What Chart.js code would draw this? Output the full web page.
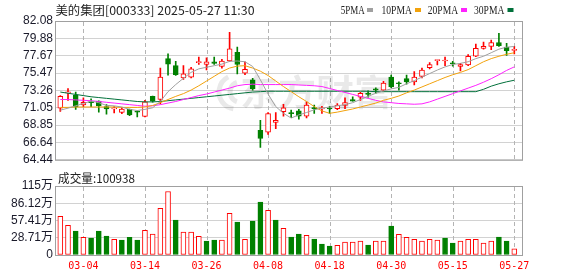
<!DOCTYPE html>
<html>
<head>
<meta charset="utf-8">
<script src="https://cdn.jsdelivr.net/npm/chart.js@4.4.1/dist/chart.umd.min.js"></script>
<style>
html,body{margin:0;padding:0;background:#fff;}
canvas{display:block;}
#wrap{position:relative;width:578px;height:276px;overflow:hidden;}
</style>
</head>
<body>
<div id="wrap">
<canvas id="p" width="578" height="170"></canvas>
<canvas id="v" width="578" height="106"></canvas>
</div>
<script>
const dates = ['02-27','02-28','03-03','03-04','03-05','03-06','03-07','03-10','03-11','03-12','03-13','03-14','03-17','03-18','03-19','03-20','03-21','03-24','03-25','03-26','03-27','03-28','03-31','04-01','04-02','04-03','04-07','04-08','04-09','04-10','04-11','04-14','04-15','04-16','04-17','04-18','04-21','04-22','04-23','04-24','04-25','04-28','04-29','04-30','05-06','05-07','05-08','05-09','05-12','05-13','05-14','05-15','05-16','05-19','05-20','05-21','05-22','05-23','05-26','05-27'];
const opens  = [71.0,72.95,72.65,71.4,71.8,71.9,71.2,70.9,70.45,70.85,70.55,69.95,72.5,72.1,77.3,76.4,74.85,74.95,76.8,76.55,76.9,76.3,77.0,78.1,75.45,74.6,68.2,67.95,69.2,70.55,70.4,70.65,70.0,71.05,70.9,71.0,70.95,71.35,72.1,72.4,72.9,73.45,73.3,74.95,74.2,74.75,74.35,75.05,76.15,77.05,77.0,76.75,76.3,76.5,77.6,78.6,78.85,79.35,78.75,78.35];
const highs  = [72.6,73.5,73.05,72.3,72.2,71.95,71.45,71.2,71.1,70.9,70.65,72.0,72.55,76.1,77.9,76.95,76.4,76.2,77.5,77.4,77.5,77.2,80.65,78.75,76.9,74.8,69.45,70.45,70.45,71.5,70.75,70.85,71.8,71.4,71.25,71.25,71.6,72.3,72.45,73.0,73.2,73.6,74.4,75.2,74.35,75.2,75.65,76.1,76.8,77.1,77.5,76.95,76.7,77.8,79.15,79.4,79.65,80.5,79.25,78.85];
const lows   = [70.6,72.0,70.85,71.2,71.2,70.5,70.25,70.4,70.3,70.05,69.9,69.9,71.75,71.55,75.2,75.15,74.65,74.85,76.55,75.85,76.55,76.1,76.95,75.35,75.25,73.3,66.0,67.65,68.4,70.0,69.8,69.6,69.75,70.35,70.35,70.35,70.8,70.95,71.9,72.0,72.4,72.9,73.2,73.6,73.3,74.05,73.95,74.85,76.0,76.5,76.4,76.35,75.75,76.4,77.55,78.5,78.45,78.85,77.7,77.9];
const closes = [72.5,73.05,71.15,71.75,71.7,71.3,70.9,71.05,70.9,70.15,70.5,71.8,71.9,74.95,76.6,75.25,75.35,76.0,76.9,76.9,76.7,77.0,78.55,76.55,75.95,73.45,67.15,70.3,69.45,71.05,70.3,70.0,71.4,70.95,71.05,70.9,71.4,71.7,71.9,72.9,72.75,73.3,74.2,73.7,74.1,74.35,74.95,75.85,76.55,77.1,77.1,76.65,76.55,77.6,78.6,78.85,79.35,78.95,78.3,78.4];
const ma5  = [70.75,71.0,71.3,71.6,71.9,71.7,71.35,71.3,71.15,70.85,70.7,70.85,71.05,71.85,73.1,74.0,74.8,75.55,76.0,76.2,76.4,76.6,76.95,77.0,76.9,76.3,74.6,72.8,71.2,70.35,69.75,70.15,70.45,70.8,71.0,71.15,71.3,71.45,71.7,72.1,72.5,72.9,73.2,73.45,73.65,74.1,74.5,74.95,75.4,75.85,76.25,76.55,76.7,76.9,77.3,77.6,78.05,78.5,78.75,78.85];
const ma10 = [71.1,71.1,71.15,71.15,71.15,71.15,71.15,71.15,71.1,71.1,71.1,71.15,71.35,71.7,72.1,72.5,72.85,73.3,73.85,74.45,75.05,75.65,76.1,76.35,76.4,76.1,75.7,75.15,74.45,73.75,73.1,72.45,71.85,71.2,70.65,70.35,70.5,70.7,70.9,71.15,71.4,71.65,72.0,72.25,72.55,72.95,73.3,73.7,74.1,74.5,74.9,75.25,75.55,75.9,76.4,76.9,77.3,77.6,77.85,78.05];
const ma20 = [72.1,72.1,72.05,72.0,71.95,71.85,71.75,71.65,71.55,71.45,71.35,71.25,71.3,71.45,71.65,71.85,72.1,72.35,72.6,72.8,73.05,73.3,73.55,73.85,74.0,74.05,74.0,74.0,74.0,74.0,74.0,73.95,73.9,73.85,73.75,73.5,73.25,73.0,72.75,72.5,72.25,72.0,71.8,71.7,71.6,71.55,71.5,71.55,71.8,72.15,72.5,72.85,73.2,73.55,73.9,74.3,74.75,75.25,75.8,76.25];
const ma30 = [73.05,72.9,72.75,72.6,72.45,72.35,72.25,72.15,72.05,71.95,71.85,71.8,71.8,71.85,71.95,72.05,72.15,72.25,72.35,72.45,72.55,72.65,72.75,72.85,72.95,73.05,73.1,73.15,73.15,73.15,73.15,73.15,73.15,73.15,73.15,73.15,73.15,73.15,73.15,73.15,73.15,73.1,73.1,73.1,73.1,73.1,73.1,73.1,73.1,73.1,73.1,73.1,73.1,73.1,73.1,73.4,73.8,74.1,74.35,74.55];
const volumes = [64.2,49.2,39.8,29.3,28.2,39.8,31.5,26.0,24.9,29.3,24.9,40.9,34.9,77.5,105.7,58.1,38.2,38.2,31.0,23.2,24.9,24.9,69.2,54.8,26.0,56.4,88.0,74.2,58.1,44.3,29.9,34.9,32.6,26.6,18.3,14.9,16.0,21.6,21.6,23.2,16.6,23.2,23.2,48.1,34.3,29.3,26.0,23.2,26.0,24.9,28.2,19.9,23.2,26.0,26.0,19.9,23.2,29.9,23.2,10.09];
const volUp = [1,1,0,1,0,0,0,1,0,0,0,1,1,1,1,0,1,1,1,0,0,1,1,0,1,0,0,1,0,1,0,0,1,0,0,0,1,1,1,1,0,1,1,0,1,1,1,1,1,1,0,0,1,1,1,1,1,0,0,1];
const xTickLabels = ['03-04','03-14','03-26','04-08','04-18','04-30','05-15','05-27'];
const priceTickLabels = ['64.44','66.64','68.85','71.05','73.26','75.47','77.67','79.88','82.08'];
const volTicks = [0,28.71,57.41,86.12,114.83];
const volTickLabels = ['0','28.71万','57.41万','86.12万','115万'];
const titleText = '美的集团[000333] 2025-05-27 11:30';
const volTitle = '成交量:100938';
const maNames = ['5PMA','10PMA','20PMA','30PMA'];
const maColors = ['#a0a0a0','#f2a20c','#ff22ff','#00703a'];

const RED = '#ff0000', GREEN = '#008000';
const xTickIdx = xTickLabels.map(l => dates.indexOf(l));
const XMIN = -0.56, XMAX = 60.0;
const PMIN = 64.44, PMAX = 82.08, VMAX = 114.83;

function fitText(ctx, text, x, y, w, font, color) {
  ctx.save();
  ctx.font = font;
  ctx.textBaseline = 'middle';
  ctx.textAlign = 'left';
  const m = ctx.measureText(text).width;
  ctx.translate(x, y);
  ctx.scale(w / m, 1);
  ctx.fillStyle = color;
  ctx.fillText(text, 0, 0);
  ctx.restore();
}

function drawVDash(chart) {
  const ctx = chart.ctx, a = chart.chartArea, xs = chart.scales.x;
  ctx.save();
  ctx.fillStyle = '#b4b4b4';
  const top = Math.round(a.top) + 1, bot = Math.round(a.bottom);
  for (let k = 0; k < xTickIdx.length; k++) {
    const px = Math.round(xs.getPixelForValue(xTickIdx[k]));
    for (let y = top; y < bot; y += 7) {
      ctx.fillRect(px, y, 1, Math.min(4, bot - y));
    }
  }
  ctx.restore();
}

const frame = {
  id: 'frame',
  beforeDatasetsDraw(chart, args, opts) {
    const ctx = chart.ctx;
    drawVDash(chart);
    if (opts.watermark) {
      fitText(ctx, '东方财富', 240, 92, 152, 'bold 36px "Noto Sans CJK SC"', 'rgba(0,0,0,0.085)');
      ctx.save();
      ctx.strokeStyle = 'rgba(0,0,0,0.085)';
      ctx.lineWidth = 5;
      ctx.beginPath();
      ctx.arc(236, 92, 17, Math.PI * 0.55, Math.PI * 1.35);
      ctx.stroke();
      ctx.beginPath();
      ctx.arc(240, 92, 10, Math.PI * 0.6, Math.PI * 1.4);
      ctx.stroke();
      ctx.restore();
    }
  },
  afterDraw(chart, args, opts) {
    const ctx = chart.ctx, a = chart.chartArea;
    ctx.save();
    ctx.setLineDash([]);
    ctx.strokeStyle = '#a0a0a0';
    ctx.lineWidth = 1;
    ctx.strokeRect(a.left - 0.5, a.top + 0.5, a.right - a.left + 1, a.bottom - a.top);
    ctx.restore();
    if (opts.header) {
      fitText(ctx, titleText, 55.5, 10.5, 199, '12px "Noto Sans CJK SC"', '#222');
      const xs = [340.7, 381.5, 427.8, 474];
      const ws = [24, 30.4, 30.3, 30.4];
      const sq = [367, 415, 461, 507.5];
      maNames.forEach((n, i) => {
        fitText(ctx, n, xs[i], 10.5, ws[i], '12px "Liberation Serif"', '#222');
        ctx.fillStyle = maColors[i];
        ctx.fillRect(sq[i], 8, 6, 4);
      });
    }
    if (opts.volHeader) {
      fitText(ctx, volTitle, 58, 8, 77, '12px "Noto Sans CJK SC"', '#222');
    }
  }
};

const candleColors = opens.map((o, i) => closes[i] >= o ? RED : GREEN);
const bodyFill = opens.map((o, i) => closes[i] >= o ? '#ffffff' : GREEN);

const maSets = [ma5, ma10, ma20, ma30].map((arr, k) => ({
  type: 'line',
  label: maNames[k],
  data: arr.map((v, i) => ({x: i, y: v})),
  borderColor: maColors[k],
  borderWidth: 1,
  pointRadius: 0,
  fill: false,
  tension: 0,
  order: 0
}));

const xBase = {
  type: 'linear', min: XMIN, max: XMAX, offset: false, bounds: 'data',
  afterBuildTicks: s => { s.ticks = xTickIdx.map(v => ({value: v})); },
  grid: {display: false, drawTicks: false, offset: false},
  border: {display: false}
};

new Chart(document.getElementById('p'), {
  type: 'bar',
  data: {
    datasets: [
      ...maSets,
      {
        type: 'bar', label: 'body',
        data: opens.map((o, i) => ({x: i, y: [o, closes[i]]})),
        backgroundColor: bodyFill, borderColor: candleColors,
        borderWidth: 1, borderSkipped: false, barThickness: 5,
        minBarLength: 1, grouped: false, order: 1
      },
      {
        type: 'bar', label: 'wick',
        data: lows.map((l, i) => ({x: i, y: [l, highs[i]]})),
        backgroundColor: candleColors, borderWidth: 0,
        barThickness: 1, grouped: false, order: 2
      }
    ]
  },
  options: {
    responsive: false, animation: false,
    layout: {padding: {top: 21, right: 56, bottom: 5, left: 0}},
    plugins: {legend: {display: false}, tooltip: {enabled: false}, frame: {header: true, watermark: true}},
    scales: {
      x: Object.assign({}, xBase, {
        ticks: {display: false},
        afterFit: s => { s.height = 0; }
      }),
      y: {
        min: PMIN, max: PMAX,
        afterBuildTicks: s => { s.ticks = priceTickLabels.map(v => ({value: parseFloat(v)})); },
        ticks: {
          callback: (v, i) => priceTickLabels[i], autoSkip: false,
          font: {family: '"Liberation Sans", Arial', size: 12}, color: '#1a1a2a', padding: 3
        },
        grid: {color: '#d2d2d2', drawTicks: false},
        border: {display: false},
        afterFit: s => { s.width = 56; }
      }
    }
  },
  plugins: [frame]
});

new Chart(document.getElementById('v'), {
  type: 'bar',
  data: {
    datasets: [
      {
        type: 'bar', label: 'vol',
        data: volumes.map((v, i) => ({x: i, y: v})),
        backgroundColor: volUp.map(u => u ? '#ffffff' : GREEN),
        borderColor: volUp.map(u => u ? RED : GREEN),
        borderWidth: 1, borderSkipped: false, barThickness: 5, grouped: false, order: 1
      }
    ]
  },
  options: {
    responsive: false, animation: false,
    layout: {padding: {top: 16, right: 56, bottom: 0, left: 0}},
    plugins: {legend: {display: false}, tooltip: {enabled: false}, frame: {volHeader: true}},
    scales: {
      x: Object.assign({}, xBase, {
        ticks: {
          callback: v => dates[v], autoSkip: false, maxRotation: 0, minRotation: 0,
          font: {family: '"DejaVu Sans Mono"', size: 10}, color: RED, padding: 5
        },
        afterFit: s => { s.height = 21; }
      }),
      y: {
        min: 0, max: VMAX,
        afterBuildTicks: s => { s.ticks = volTicks.map(v => ({value: v})); },
        ticks: {
          callback: (v, i) => volTickLabels[i], autoSkip: false,
          font: {family: '"Liberation Sans", "Noto Sans CJK SC"', size: 12}, color: '#1a1a2a', padding: 3
        },
        grid: {color: '#d2d2d2', drawTicks: false},
        border: {display: false},
        afterFit: s => { s.width = 56; }
      }
    }
  },
  plugins: [frame]
});
</script>
</body>
</html>
